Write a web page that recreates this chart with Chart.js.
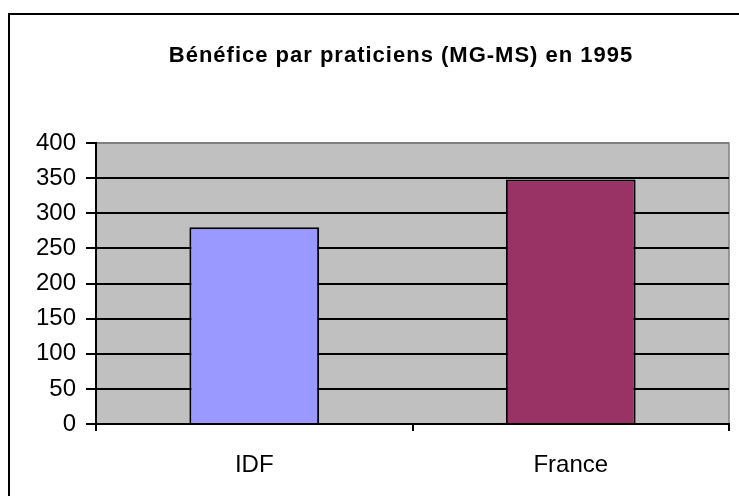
<!DOCTYPE html>
<html>
<head>
<meta charset="utf-8">
<script src="https://cdn.jsdelivr.net/npm/chart.js@4"></script>
<style>
  html, body { margin: 0; padding: 0; background: #fff; }
  #wrap { width: 739px; height: 496px; }
</style>
</head>
<body>
<div id="wrap"><canvas id="myChart"></canvas></div>
<script>
const titleText = 'Bénéfice par praticiens (MG-MS) en 1995';
const categories = ['IDF', 'France'];
const values = [280, 348];
const barColors = ['#9999FF', '#993366'];
const yTicks = [0, 50, 100, 150, 200, 250, 300, 350, 400];

// fond blanc, cadre noir et zone grise derrière les barres
const backdrop = {
    id: 'backdrop',
    beforeDraw(chart) {
        const { ctx, chartArea: a } = chart;
        ctx.save();
        ctx.fillStyle = '#fff';
        ctx.fillRect(0, 0, chart.width, chart.height);
        ctx.strokeStyle = '#000';
        ctx.lineWidth = 2;
        ctx.strokeRect(9, 14, chart.width + 20, chart.height + 20);
        ctx.fillStyle = '#C0C0C0';
        ctx.fillRect(a.left, a.top, a.right - a.left, a.bottom - a.top);
        ctx.strokeStyle = '#808080';
        ctx.lineWidth = 1.5;
        ctx.beginPath();
        ctx.moveTo(a.left, a.top);
        ctx.lineTo(a.right, a.top);
        ctx.lineTo(a.right, a.bottom);
        ctx.stroke();
        ctx.restore();
    },
    // titre dessiné à la main (espacement des lettres comme l'original)
    afterDraw(chart) {
        const { ctx } = chart;
        ctx.save();
        ctx.font = 'bold 22px "Liberation Sans", Arial';
        ctx.letterSpacing = '1px';
        ctx.fillStyle = '#000';
        ctx.textAlign = 'center';
        ctx.textBaseline = 'alphabetic';
        ctx.fillText(titleText, 401, 62);
        ctx.restore();
    }
};

const ctx = document.getElementById('myChart').getContext('2d');
const myChart = new Chart(ctx, {
    type: 'bar',
    data: {
        labels: categories,
        datasets: [{
            data: values,
            backgroundColor: barColors,
            borderColor: '#000',
            borderWidth: 2,
            barPercentage: 0.41,
            categoryPercentage: 1
        }]
    },
    options: {
        responsive: true,
        maintainAspectRatio: false,
        animation: false,
        layout: { padding: { left: 20, right: 10, top: 143, bottom: 0 } },
        plugins: {
            legend: { display: false },
            tooltip: { enabled: false },
            title: { display: false }
        },
        scales: {
            x: {
                afterFit: (s) => { s.height = 72; },
                border: { display: true, color: '#000', width: 2 },
                grid: { offset: true, drawOnChartArea: false, drawTicks: true, tickLength: 7, tickColor: '#000', lineWidth: 2 },
                ticks: { color: '#000', padding: 20, font: { family: 'Liberation Sans, Arial', size: 24 } }
            },
            y: {
                min: 0,
                max: 400,
                afterFit: (s) => { s.width = 76; },
                afterBuildTicks: (s) => { s.ticks = yTicks.map(v => ({ value: v })); },
                border: { display: true, color: '#000', width: 2 },
                grid: {
                    color: (c) => c.tick && c.tick.value === 400 ? '#808080' : '#000',
                    tickColor: '#000',
                    lineWidth: 2,
                    tickLength: 10
                },
                ticks: { color: '#000', padding: 10, font: { family: 'Liberation Sans, Arial', size: 24 } }
            }
        }
    },
    plugins: [backdrop]
});
</script>
</body>
</html>
